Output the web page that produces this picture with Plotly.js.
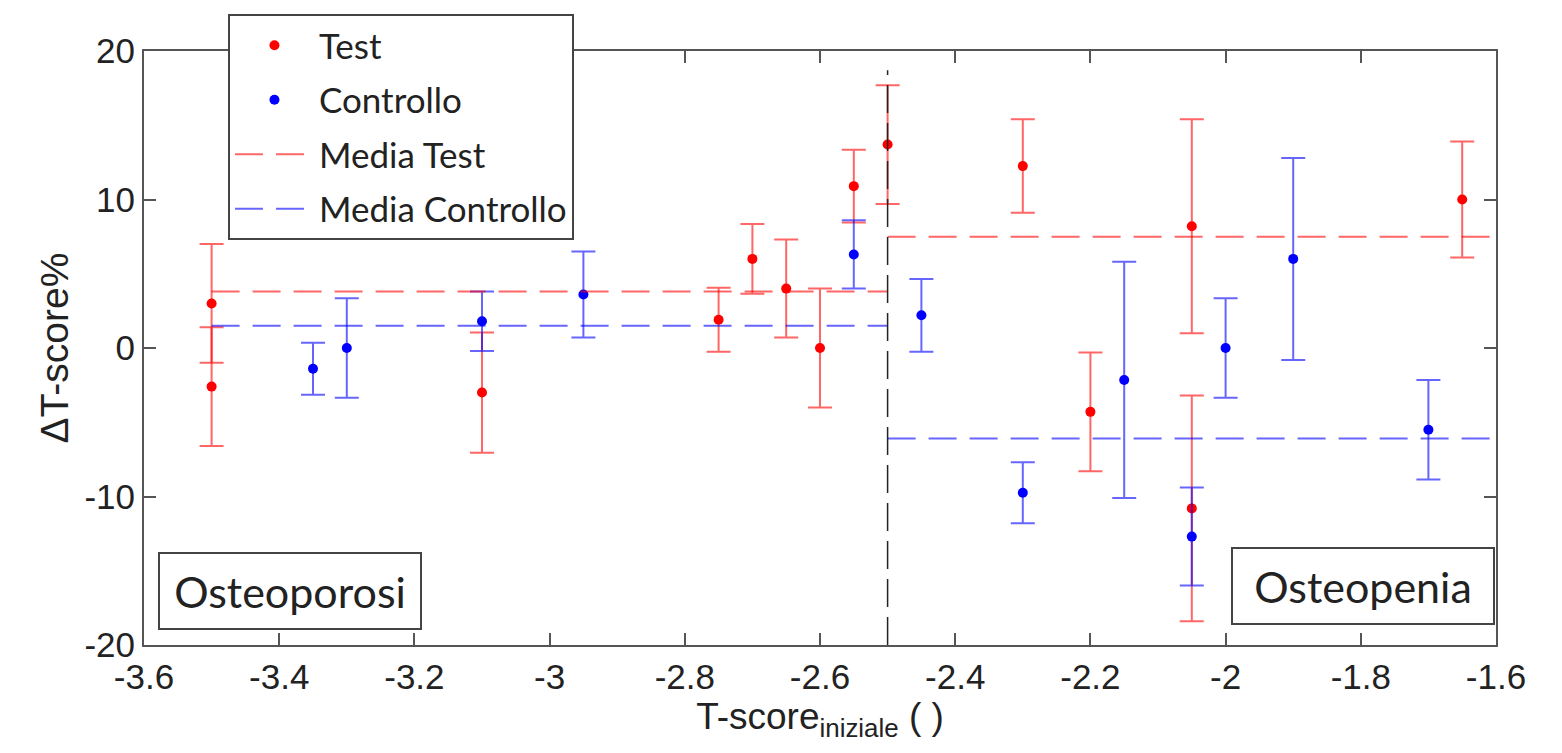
<!DOCTYPE html>
<html><head><meta charset="utf-8">
<script src="https://cdn.plot.ly/plotly-3.0.1.min.js"></script>
<style>html,body{margin:0;padding:0;background:#fff;} #chart{width:1562px;height:753px;}</style>
</head><body><div id="chart"></div>
<script>
// ---- data ----
const testX   = [-3.5, -3.5, -3.1, -2.75, -2.7, -2.65, -2.6, -2.55, -2.5, -2.3, -2.2, -2.05, -2.05, -1.65];
const testY   = [3.0, -2.6, -3.0, 1.9, 6.0, 4.0, 0.0, 10.9, 13.7, 12.25, -4.3, 8.2, -10.8, 10.0];
const testErr = [4.0, 4.0, 4.05, 2.15, 2.35, 3.3, 4.0, 2.45, 4.0, 3.15, 4.0, 7.2, 7.6, 3.9];

const ctrlX   = [-3.35, -3.3, -3.1, -2.95, -2.55, -2.45, -2.3, -2.15, -2.05, -2.0, -1.9, -1.7];
const ctrlY   = [-1.4, 0.0, 1.8, 3.6, 6.3, 2.2, -9.75, -2.15, -12.7, 0.0, 6.0, -5.5];
const ctrlErr = [1.75, 3.35, 2.0, 2.9, 2.3, 2.45, 2.05, 7.95, 3.3, 3.35, 6.8, 3.35];

const meanSegStart = [-3.5, -2.5];
const meanSegEnd   = [-2.5, -1.6];
const testMeans    = [3.8, 7.5];
const ctrlMeans    = [1.5, -6.1];

const splitX = -2.5;
const splitTop = 18.7;

const xTickVals = [-3.6, -3.4, -3.2, -3, -2.8, -2.6, -2.4, -2.2, -2, -1.8, -1.6];
const xTickText = ['-3.6', '-3.4', '-3.2', '-3', '-2.8', '-2.6', '-2.4', '-2.2', '-2', '-1.8', '-1.6'];
const yTickVals = [-20, -10, 0, 10, 20];
const yTickText = ['-20', '-10', '0', '10', '20'];

const seriesNames = ['Test', 'Controllo', 'Media Test', 'Media Controllo'];
const regionLabels = ['Osteoporosi', 'Osteopenia'];

// ---- build ----
function segs(means) {
  const xs = [], ys = [];
  means.forEach((m, i) => {
    if (i > 0) { xs.push(null); ys.push(null); }
    xs.push(meanSegStart[i], meanSegEnd[i]);
    ys.push(m, m);
  });
  return {xs, ys};
}
const tm = segs(testMeans), cm = segs(ctrlMeans);

const RED = '#ff0000', BLUE = '#0000ff';
const RED_L = 'rgba(255,0,0,0.6)', BLUE_L = 'rgba(0,0,255,0.6)';

const traces = [
  {type:'scatter', mode:'markers', name:seriesNames[0], x:testX, y:testY, legendgroup:'a',
   marker:{color:RED, size:10},
   error_y:{type:'data', array:testErr, visible:true, color:RED_L, thickness:2, width:12}},
  {type:'scatter', mode:'markers', name:seriesNames[1], x:ctrlX, y:ctrlY, legendgroup:'b',
   marker:{color:BLUE, size:10},
   error_y:{type:'data', array:ctrlErr, visible:true, color:BLUE_L, thickness:2, width:12}},
  {type:'scatter', mode:'lines', name:seriesNames[2], x:tm.xs, y:tm.ys, legendgroup:'c',
   line:{color:RED_L, width:2, dash:'28px,13px'}, connectgaps:false},
  {type:'scatter', mode:'lines', name:seriesNames[3], x:cm.xs, y:cm.ys, legendgroup:'d',
   line:{color:BLUE_L, width:2, dash:'28px,13px'}, connectgaps:false}
];

const axisCommon = {
  ticks:'inside', ticklen:12, tickwidth:2, tickcolor:'#555',
  showline:true, linecolor:'#555', linewidth:2, mirror:'ticks',
  showgrid:false, zeroline:false, automargin:false,
  tickfont:{family:'Liberation Sans, Arial, sans-serif', size:35, color:'#222'}
};

const layout = {
  width:1562, height:753,
  margin:{l:144, r:66, t:51, b:108},
  paper_bgcolor:'#fff', plot_bgcolor:'#fff',
  font:{family:'Liberation Sans, Arial, sans-serif', color:'#222', size:35},
  showlegend:true,
  xaxis:Object.assign({}, axisCommon, {
    range:[-3.6, -1.6], tickmode:'array', tickvals:xTickVals, ticktext:xTickText,
    title:{text:'T-score<sub>iniziale</sub> ( )', font:{size:37, color:'#222'}, standoff:6}
  }),
  yaxis:Object.assign({}, axisCommon, {
    range:[-20, 20], tickmode:'array', tickvals:yTickVals, ticktext:yTickText,
    title:{text:'\u0394T-score%', font:{size:39, color:'#222'}, standoff:4}
  }),
  legend:{
    x:0.0621, y:1.0623, xanchor:'left', yanchor:'top',
    bgcolor:'#fff', bordercolor:'#444', borderwidth:2,
    font:{family:'Lato, sans-serif', size:35, color:'#222'},
    itemwidth:79, tracegroupgap:6, traceorder:'grouped'
  },
  shapes:[{type:'line', xref:'x', yref:'y', x0:splitX, x1:splitX, y0:-20, y1:splitTop,
           line:{color:'#222', width:1.5, dash:'28px,10px'}}],
  annotations:[
    {xref:'paper', yref:'paper', x:0.0104, y:0.0256, xanchor:'left', yanchor:'bottom',
     text:regionLabels[0], showarrow:false, font:{family:'Lato, sans-serif', size:43, color:'#222'},
     bgcolor:'#fff', bordercolor:'#444', borderwidth:2, borderpad:2, width:256, height:70},
    {xref:'paper', yref:'paper', x:0.9993, y:0.034, xanchor:'right', yanchor:'bottom',
     text:regionLabels[1], showarrow:false, font:{family:'Lato, sans-serif', size:43, color:'#222'},
     bgcolor:'#fff', bordercolor:'#444', borderwidth:2, borderpad:2, width:256, height:70}
  ]
};

Plotly.newPlot('chart', traces, layout, {displayModeBar:false, staticPlot:true});
</script>
</body></html>
